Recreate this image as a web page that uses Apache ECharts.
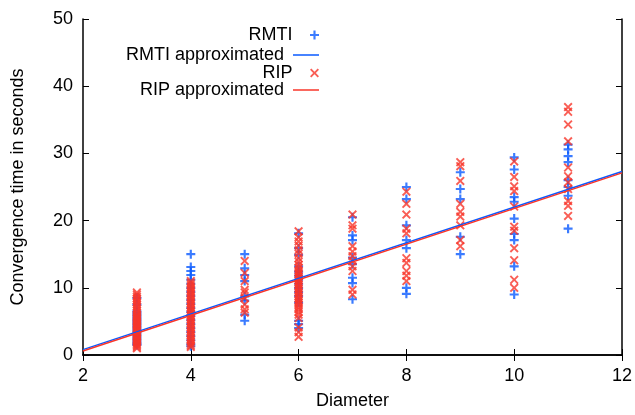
<!DOCTYPE html>
<html>
<head>
<meta charset="utf-8">
<script src="https://cdn.jsdelivr.net/npm/echarts@6/dist/echarts.min.js"></script>
<style>
  html, body { margin: 0; padding: 0; background: #fff; }
  #chart { width: 635px; height: 415px; }
</style>
</head>
<body>
<div id="chart"></div>
<script>
// diameters measured
const diameters = [3, 4, 5, 6, 7, 8, 9, 10, 11];

// convergence times per diameter (seconds)
const rmtiTimes = [
  [8.5, 7.5, 6.5, 6.2, 5.9, 5.6, 5.3, 5.0, 4.7, 4.4, 4.1, 3.8, 3.5, 3.2, 2.9, 2.6, 2.3, 2.0, 1.7, 1.5],
  [15.0, 13.1, 12.5, 11.9, 11.2, 10.6, 10.0, 9.4, 8.8, 8.2, 7.6, 7.0, 6.4, 5.8, 5.2, 4.6, 4.0, 3.4, 2.8, 2.2, 1.6, 1.3],
  [15.0, 12.9, 11.9, 11.0, 8.7, 8.1, 6.0, 5.1],
  [18.1, 15.9, 14.9, 13.2, 12.4, 11.8, 11.2, 10.6, 10.0, 9.4, 8.8, 7.8, 5.1, 4.6, 4.0],
  [20.5, 17.8, 17.1, 14.5, 13.5, 11.5, 10.7, 8.3],
  [25.0, 23.2, 19.3, 17.1, 15.9, 10.0, 9.1],
  [27.2, 24.7, 23.2, 17.6, 15.0],
  [29.4, 27.6, 23.5, 22.8, 20.3, 18.0, 17.1, 13.2, 9.0],
  [31.3, 30.6, 29.6, 28.7, 26.0, 25.0, 23.7, 18.8]
];

const ripTimes = [
  [9.3, 9.0, 8.7, 8.4, 8.1, 7.8, 7.5, 7.2, 6.9, 6.6, 6.3, 6.0, 5.8, 5.6, 5.4, 5.2, 5.0, 4.8, 4.6, 4.4, 4.2, 4.0, 3.8, 3.6, 3.4, 3.2, 3.0, 2.8, 2.6, 2.4, 2.2, 2.0, 1.8, 1.6, 1.4, 1.2, 1.0],
  [11.0, 10.7, 10.4, 10.1, 9.8, 9.5, 9.2, 8.9, 8.6, 8.3, 8.0, 7.7, 7.4, 7.1, 6.8, 6.5, 6.2, 5.9, 5.6, 5.3, 5.0, 4.7, 4.4, 4.1, 3.8, 3.5, 3.2, 2.9, 2.6, 2.3, 2.0, 1.7, 1.4, 1.2],
  [14.0, 12.2, 11.0, 9.7, 9.3, 8.5, 7.5, 6.8, 6.3],
  [18.4, 17.5, 16.9, 16.3, 15.6, 15.1, 14.4, 13.9, 13.4, 13.0, 12.6, 12.3, 12.0, 11.7, 11.4, 11.1, 10.8, 10.5, 10.2, 9.9, 9.6, 9.3, 9.0, 8.7, 8.4, 8.1, 7.8, 7.5, 7.1, 6.8, 6.4, 6.0, 5.5, 4.1, 3.4, 2.7],
  [20.9, 19.3, 18.8, 16.2, 15.4, 14.7, 14.0, 13.2, 12.5, 9.7, 9.0],
  [24.3, 22.5, 20.9, 18.8, 18.1, 14.4, 13.7, 12.5, 11.8, 11.0],
  [28.7, 28.1, 25.9, 22.5, 21.3, 20.6, 19.3, 17.1, 16.2],
  [28.8, 26.5, 25.1, 24.4, 22.1, 19.1, 18.5, 15.9, 14.1, 11.2, 10.0],
  [36.9, 36.2, 34.3, 31.8, 27.9, 26.6, 25.7, 24.7, 22.9, 22.2, 20.7]
];

// fitted lines, end points at the axis range
const fitX = [2, 12];
const rmtiFit = [0.8, 27.3];
const ripFit = [0.6, 27.1];

const xTicks = [2, 4, 6, 8, 10, 12];
const yTicks = [0, 10, 20, 30, 40, 50];

const seriesNames = ['RMTI', 'RMTI approximated', 'RIP', 'RIP approximated'];

const blue = '#0a5aff';
const red = '#f8362a';
const font = 'Liberation Sans, Arial, sans-serif';

const plusPath = 'path://M3.8,0 H6.2 V3.8 H10 V6.2 H6.2 V10 H3.8 V6.2 H0 V3.8 H3.8 Z';
const crossPath = 'path://M0,1.5 L1.5,0 L5,3.5 L8.5,0 L10,1.5 L6.5,5 L10,8.5 L8.5,10 L5,6.5 L1.5,10 L0,8.5 L3.5,5 Z';

function toPoints(times) {
  const pts = [];
  times.forEach((col, i) => {
    col.forEach(v => pts.push([diameters[i], v]));
  });
  return pts;
}

const chart = echarts.init(document.getElementById('chart'));

const legendTops = [21, 41, 59, 76];
const isLine = [false, true, false, true];

const axisCommon = {
  axisLine: { show: true, lineStyle: { color: '#000', width: 1.5 } },
  axisTick: { show: true, inside: true, length: 6, lineStyle: { color: '#000', width: 1 } },
  splitLine: { show: false }
};

const option = {
  animation: false,
  backgroundColor: '#fff',
  textStyle: { fontFamily: font },
  grid: { left: 83, right: 11, top: 19, bottom: 57, containLabel: false },
  legend: seriesNames.map((name, i) => ({
    data: [isLine[i] ? { name: name, icon: 'rect' } : name],
    orient: 'vertical',
    align: 'right',
    right: 311,
    top: legendTops[i],
    itemWidth: 26,
    itemHeight: isLine[i] ? 1.5 : 9,
    itemGap: 0,
    textStyle: { fontSize: 18, color: '#000', fontFamily: font, padding: [0, 4, 0, 0] },
    selectedMode: false
  })),
  xAxis: [
    Object.assign({}, axisCommon, {
      type: 'value',
      min: 2,
      max: 12,
      interval: 2,
      name: 'Diameter',
      nameLocation: 'middle',
      nameGap: 37,
      nameTextStyle: { fontSize: 18, color: '#000', fontFamily: font },
      axisLabel: {
        fontSize: 18, color: '#000', margin: 12, fontFamily: font,
        formatter: v => xTicks.includes(v) ? String(v) : ''
      }
    }),
    Object.assign({}, axisCommon, {
      type: 'value', position: 'top', min: 2, max: 12, interval: 2,
      axisLabel: { show: false }
    })
  ],
  yAxis: [
    Object.assign({}, axisCommon, {
      type: 'value',
      min: 0,
      max: 50,
      interval: 10,
      name: 'Convergence time in seconds',
      nameLocation: 'middle',
      nameGap: 56,
      nameTextStyle: { fontSize: 18, color: '#000', fontFamily: font },
      axisLabel: {
        fontSize: 18, color: '#000', margin: 10, fontFamily: font,
        formatter: v => yTicks.includes(v) ? String(v) : ''
      }
    }),
    Object.assign({}, axisCommon, {
      type: 'value', position: 'right', min: 0, max: 50, interval: 10,
      axisLabel: { show: false }
    })
  ],
  series: [
    {
      name: 'RMTI',
      type: 'scatter',
      symbol: plusPath,
      symbolSize: 9,
      itemStyle: { color: blue },
      data: toPoints(rmtiTimes)
    },
    {
      name: 'RMTI approximated',
      type: 'line',
      symbol: 'none',
      lineStyle: { color: blue, width: 1.5 },
      itemStyle: { color: blue },
      data: fitX.map((x, i) => [x, rmtiFit[i]])
    },
    {
      name: 'RIP',
      type: 'scatter',
      symbol: crossPath,
      symbolSize: 9,
      itemStyle: { color: red },
      data: toPoints(ripTimes)
    },
    {
      name: 'RIP approximated',
      type: 'line',
      symbol: 'none',
      lineStyle: { color: red, width: 1.5 },
      itemStyle: { color: red },
      data: fitX.map((x, i) => [x, ripFit[i]])
    }
  ]
};

chart.setOption(option);
</script>
</body>
</html>
